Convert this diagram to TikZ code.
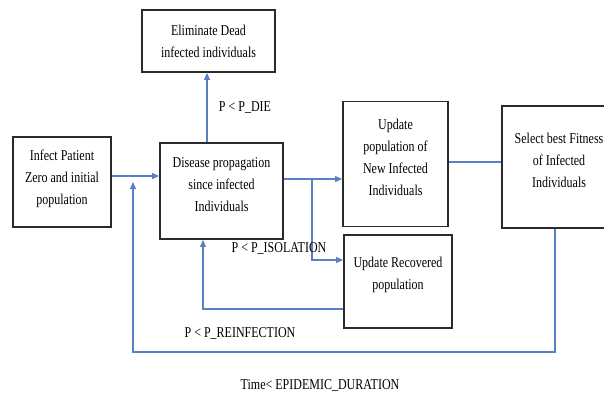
\documentclass[tikz,border=0pt]{standalone}
\usepackage{fontspec}
\setmainfont[FakeStretch=0.8]{Liberation Serif}
\usetikzlibrary{arrows.meta,calc}
\definecolor{conn}{HTML}{5B7FC4}
\definecolor{boxc}{HTML}{2B2B2B}
\tikzset{
  box/.style={draw=boxc, line width=1.8pt, rectangle, inner sep=0pt},
  txt/.style={align=center, font=\fontsize{15}{22}\selectfont, inner sep=0pt},
  lbl/.style={font=\fontsize{15}{18}\selectfont, inner sep=0pt},
  conline/.style={draw=conn, line width=1.1pt},
  arr/.style={conline, -{Triangle[length=7pt,width=6pt]}}
}
\begin{document}
\begin{tikzpicture}[x=1pt,y=-1pt]
\useasboundingbox (0,0) rectangle (604,399);
% boxes
\node[box, minimum width=133pt, minimum height=62pt] (elim) at (208.5,41) {};
\node[txt] (elimT) at (208.5,41) {Eliminate Dead\\infected individuals};
\node[box, minimum width=98pt, minimum height=90pt] (infect) at (62,182) {};
\node[txt] (infectT) at (62,179) {Infect Patient\\Zero and initial\\population};
\node[box, minimum width=123pt, minimum height=96pt] (dis) at (221.5,191) {};
\node[txt] (disT) at (221.5,185) {Disease propagation\\since infected\\Individuals};
\node[box, minimum width=105pt, minimum height=125pt] (upd) at (395.5,164) {};
\node[txt] (updT) at (395.5,157) {Update\\population of\\New Infected\\Individuals};
\node[box, minimum width=114pt, minimum height=122pt] (sel) at (559,167) {};
\node[txt] (selT) at (559,160) {Select best Fitness\\of Infected\\Individuals};
\node[box, minimum width=108pt, minimum height=93pt] (rec) at (398,281.5) {};
\node[txt] (recT) at (398,275) {Update Recovered\\population};
% connectors
\draw[arr] ([yshift=6pt]infect.east) -- ([yshift=6pt]infect.east -| dis.west);
\draw[arr] ([xshift=-1.5pt]elim.south |- dis.north) -- ([xshift=-1.5pt]elim.south);
\coordinate (br) at (312,179);
\draw[arr] (dis.east |- br) -- (br) -- (upd.west |- br);
\draw[arr] (br) |- ([yshift=21.5pt]rec.west);
\draw[arr] ([yshift=-27.5pt]rec.west) -| ([xshift=-18.5pt]dis.south);
\draw[conline] ([yshift=2pt]upd.east) -- ([yshift=2pt]upd.east -| sel.west);
\coordinate (loopc) at (133,352);
\coordinate (tip) at (133,182);
\draw[arr] ([xshift=-4pt]sel.south) |- (loopc) -- (tip);
% labels
\node[lbl] (ldie) at (245,108) {P < P\_DIE};
\node[lbl] (liso) at (279,248) {P < P\_ISOLATION};
\node[lbl] (lrein) at (240,333) {P < P\_REINFECTION};
\node[lbl] (ltime) at (320,385) {Time< EPIDEMIC\_DURATION};
\end{tikzpicture}
\end{document}
